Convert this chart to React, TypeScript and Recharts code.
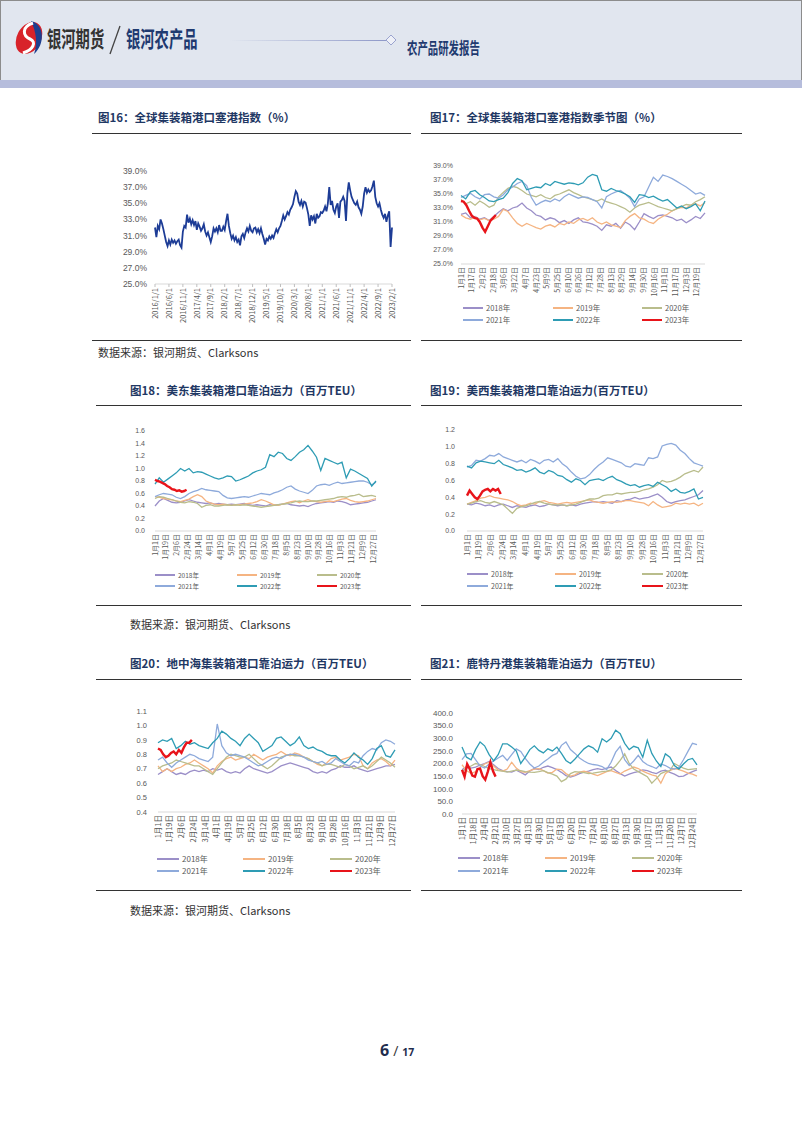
import React from "react";
import { LineChart, Line, XAxis, YAxis } from "recharts";

const CJK = "'Noto Sans CJK SC', 'Noto Sans', sans-serif";
const NUM = "'Liberation Sans', 'Noto Sans CJK SC', sans-serif";
const NAVY = "#1f3864";
const TICK_GRAY = "#595959";

// 图16: 全球集装箱港口塞港指数, two readings per month from 2016/1/1
const idxTickLabels = [
  "2016/1/1", "2016/6/1", "2016/11/1", "2017/4/1", "2017/9/1", "2018/2/1",
  "2018/7/1", "2018/12/1", "2019/5/1", "2019/10/1", "2020/3/1", "2020/8/1",
  "2021/1/1", "2021/6/1", "2021/11/1", "2022/4/1", "2022/9/1", "2023/2/1",
];
const idxValues = [
  // 2016
  32.0, 30.8, 32.2, 31.8, 33.0, 32.5, 31.8, 31.0, 30.2, 29.7, 30.4, 29.9,
  30.5, 30.1, 30.4, 30.0, 30.3, 30.5, 29.8, 29.5, 31.5, 32.2, 32.0, 33.6,
  // 2017
  32.6, 33.1, 32.4, 32.9, 32.3, 32.8, 31.7, 32.5, 32.1, 31.6, 31.9, 32.4,
  31.5, 31.0, 31.4, 30.8, 30.2, 30.9, 31.9, 31.5, 31.9, 31.4, 32.3, 31.6,
  // 2018
  31.6, 32.1, 31.7, 32.8, 33.7, 32.2, 31.3, 30.6, 31.0, 30.4, 30.8, 30.2,
  30.5, 29.8, 30.9, 31.2, 30.7, 31.4, 31.9, 31.5, 32.2, 31.6, 31.4, 31.9,
  // 2019
  32.0, 31.4, 31.8, 31.3, 31.9, 31.2, 30.6, 29.9, 30.6, 30.4, 30.9, 30.6,
  31.0, 30.7, 31.3, 31.8, 31.4, 31.9, 32.2, 32.8, 33.5, 33.0, 33.4, 33.9,
  // 2020
  33.6, 34.2, 34.5, 34.9, 35.8, 36.5, 36.2, 35.2, 34.8, 35.3, 34.6, 35.2,
  35.1, 34.4, 33.6, 32.2, 33.5, 33.0, 33.4, 32.5, 33.7, 33.2, 33.4, 33.9,
  // 2021
  33.8, 34.1, 34.6, 34.0, 35.0, 37.0, 34.8, 35.3, 34.2, 33.8, 34.6, 35.0,
  33.2, 35.2, 35.4, 35.8, 35.3, 32.8, 36.2, 37.6, 36.6, 35.8, 35.4, 35.0,
  // 2022
  34.8, 35.2, 34.5, 34.2, 33.7, 34.6, 36.2, 37.0, 36.3, 36.7, 36.4, 36.6,
  37.1, 37.8, 35.8, 35.0, 34.6, 35.0, 34.2, 33.6, 33.2, 33.7, 32.7, 33.5,
  // 2023
  34.0, 29.6, 32.0,
];

// seasonal x-axis labels
const ticks17 = [
  "1月1日", "1月17日", "2月2日", "2月18日", "3月6日", "3月22日", "4月7日", "4月23日",
  "5月9日", "5月25日", "6月10日", "6月26日", "7月12日", "7月28日", "8月13日", "8月29日",
  "9月14日", "9月30日", "10月16日", "11月1日", "11月17日", "12月3日", "12月19日",
];
const ticks18 = [
  "1月1日", "1月19日", "2月6日", "2月24日", "3月14日", "4月1日", "4月19日", "5月7日",
  "5月25日", "6月12日", "6月30日", "7月18日", "8月5日", "8月23日", "9月10日", "9月28日",
  "10月16日", "11月3日", "11月21日", "12月9日", "12月27日",
];
const ticks21 = [
  "1月1日", "1月18日", "2月4日", "2月21日", "3月10日", "3月27日", "4月13日", "4月30日",
  "5月17日", "6月3日", "6月20日", "7月7日", "7月24日", "8月10日", "8月27日", "9月13日",
  "9月30日", "10月17日", "11月3日", "11月20日", "12月7日", "12月24日",
];

const years = ["2018年", "2019年", "2020年", "2021年", "2022年", "2023年"];
const yearColors = ["#9b8fc8", "#f5b482", "#b9bd8c", "#8eaadb", "#2e9cb4", "#e8141a"];

// weekly readings (Jan 1, Jan 8, ...); 2023 every 4 days
// 图17 塞港指数 (%)
const cong2018 = [32.1, 32.3, 31.6, 31.8, 31.4, 31.6, 31.2, 31.8, 32.4, 32.9, 32.6, 33.0, 33.2, 33.7, 33.0, 32.6, 32.0, 31.8, 31.3, 31.6, 31.4, 30.9, 31.2, 30.8, 31.3, 31.6, 31.0, 30.9, 30.7, 30.4, 29.8, 30.6, 30.4, 30.8, 30.1, 31.0, 30.6, 29.9, 31.0, 32.2, 31.8, 31.5, 31.9, 32.0, 31.8, 31.6, 31.2, 31.4, 30.9, 31.3, 31.8, 31.5, 32.3];
const cong2019 = [32.0, 31.6, 31.4, 31.7, 31.3, 31.5, 31.2, 31.4, 31.8, 32.8, 32.5, 31.6, 30.8, 30.4, 30.8, 30.5, 30.2, 30.0, 30.4, 30.6, 30.3, 30.8, 30.6, 31.0, 30.8, 31.3, 31.5, 31.2, 31.6, 31.0, 30.7, 31.0, 30.6, 30.4, 30.2, 31.2, 31.8, 32.2, 31.6, 31.4, 31.0, 30.8, 31.4, 31.8, 32.1, 32.6, 32.9, 33.1, 33.0, 33.4, 33.6, 33.3, 33.8];
const cong2020 = [34.2, 33.6, 33.9, 33.4, 34.0, 33.6, 33.1, 33.4, 34.6, 35.2, 35.8, 36.1, 35.9, 35.5, 35.0, 34.8, 34.6, 34.9, 34.5, 34.3, 34.8, 35.0, 35.3, 35.6, 35.2, 34.9, 34.6, 34.4, 34.2, 34.0, 34.3, 33.9, 33.7, 33.5, 33.2, 32.9, 32.4, 33.0, 33.4, 33.6, 33.8, 33.5, 33.2, 33.0, 32.8, 32.6, 32.9, 33.2, 33.5, 33.4, 33.9, 34.2, 34.6];
const cong2021 = [34.5, 34.8, 35.1, 34.6, 34.3, 34.9, 35.0, 34.6, 34.4, 34.9, 35.6, 36.0, 36.5, 36.8, 36.2, 34.5, 33.4, 33.8, 34.1, 33.9, 34.3, 34.0, 34.6, 35.0, 34.7, 34.4, 34.6, 34.5, 34.2, 33.9, 33.0, 34.6, 35.0, 35.3, 35.5, 35.0, 34.4, 33.2, 34.3, 34.6, 36.0, 37.4, 36.8, 37.7, 37.5, 37.2, 36.8, 36.4, 36.0, 35.5, 35.0, 35.2, 34.8];
const cong2022 = [34.8, 34.3, 35.3, 35.5, 34.9, 34.5, 34.0, 33.9, 34.2, 34.4, 35.2, 36.5, 37.2, 36.9, 35.6, 35.8, 36.0, 35.9, 36.5, 36.2, 36.8, 36.6, 36.4, 36.6, 36.5, 36.3, 36.6, 37.4, 37.8, 37.6, 35.6, 35.4, 35.8, 35.5, 35.3, 35.0, 34.6, 33.8, 34.9, 34.8, 34.5, 34.7, 34.3, 34.0, 34.2, 33.6, 33.0, 33.3, 32.9, 33.2, 33.6, 32.6, 34.0];
const cong2023 = [34.0, 33.9, 33.4, 32.6, 31.9, 31.6, 31.5, 31.0, 30.2, 29.6, 30.4, 31.2, 31.6, 32.0];

// 图18 美东靠泊运力 (百万TEU)
const east2018 = [0.40, 0.48, 0.52, 0.49, 0.46, 0.45, 0.46, 0.48, 0.50, 0.48, 0.46, 0.45, 0.44, 0.45, 0.43, 0.44, 0.43, 0.42, 0.43, 0.42, 0.43, 0.44, 0.42, 0.41, 0.42, 0.41, 0.40, 0.42, 0.41, 0.42, 0.43, 0.44, 0.42, 0.41, 0.40, 0.41, 0.39, 0.42, 0.44, 0.45, 0.46, 0.47, 0.46, 0.48, 0.47, 0.45, 0.42, 0.43, 0.44, 0.45, 0.46, 0.48, 0.50];
const east2019 = [0.55, 0.54, 0.52, 0.51, 0.50, 0.48, 0.47, 0.49, 0.51, 0.55, 0.58, 0.55, 0.48, 0.45, 0.43, 0.42, 0.43, 0.42, 0.41, 0.42, 0.42, 0.43, 0.44, 0.45, 0.47, 0.50, 0.48, 0.45, 0.42, 0.41, 0.43, 0.45, 0.47, 0.48, 0.45, 0.48, 0.50, 0.48, 0.47, 0.46, 0.47, 0.48, 0.47, 0.49, 0.51, 0.52, 0.49, 0.47, 0.46, 0.47, 0.48, 0.50, 0.52];
const east2020 = [0.52, 0.55, 0.54, 0.52, 0.50, 0.48, 0.46, 0.45, 0.47, 0.46, 0.44, 0.38, 0.41, 0.42, 0.40, 0.40, 0.41, 0.42, 0.41, 0.42, 0.41, 0.42, 0.41, 0.40, 0.39, 0.38, 0.39, 0.40, 0.41, 0.42, 0.43, 0.44, 0.45, 0.47, 0.48, 0.47, 0.47, 0.48, 0.48, 0.49, 0.50, 0.51, 0.52, 0.54, 0.55, 0.54, 0.56, 0.57, 0.59, 0.55, 0.56, 0.57, 0.55];
const east2021 = [0.55, 0.58, 0.60, 0.59, 0.58, 0.54, 0.52, 0.55, 0.60, 0.63, 0.65, 0.68, 0.66, 0.65, 0.64, 0.63, 0.57, 0.53, 0.52, 0.53, 0.54, 0.55, 0.54, 0.56, 0.58, 0.60, 0.59, 0.58, 0.61, 0.63, 0.66, 0.70, 0.72, 0.67, 0.64, 0.62, 0.60, 0.65, 0.72, 0.74, 0.75, 0.73, 0.76, 0.78, 0.76, 0.77, 0.78, 0.79, 0.80, 0.80, 0.78, 0.74, 0.78];
const east2022 = [0.75, 0.85, 0.78, 0.83, 0.88, 0.93, 1.00, 0.96, 1.00, 0.93, 0.95, 0.94, 0.91, 0.88, 0.85, 0.83, 0.85, 0.88, 0.87, 0.80, 0.82, 0.85, 0.88, 0.93, 0.96, 0.98, 1.02, 1.22, 1.19, 1.26, 1.24, 1.16, 1.13, 1.19, 1.26, 1.30, 1.37, 1.28, 1.18, 0.97, 1.16, 1.13, 1.10, 1.07, 1.10, 0.85, 0.99, 0.96, 0.92, 0.88, 0.84, 0.72, 0.80];
const east2023 = [0.82, 0.80, 0.79, 0.77, 0.75, 0.72, 0.70, 0.67, 0.66, 0.64, 0.65, 0.63, 0.64, 0.66];

// 图19 美西靠泊运力 (百万TEU)
const west2018 = [0.32, 0.31, 0.33, 0.32, 0.30, 0.31, 0.29, 0.31, 0.32, 0.30, 0.28, 0.30, 0.29, 0.28, 0.30, 0.31, 0.29, 0.30, 0.32, 0.31, 0.30, 0.31, 0.30, 0.31, 0.30, 0.32, 0.33, 0.34, 0.35, 0.34, 0.35, 0.34, 0.33, 0.36, 0.35, 0.37, 0.38, 0.40, 0.38, 0.39, 0.40, 0.42, 0.44, 0.40, 0.35, 0.33, 0.35, 0.36, 0.37, 0.39, 0.41, 0.43, 0.48];
const west2019 = [0.32, 0.34, 0.36, 0.39, 0.40, 0.42, 0.40, 0.39, 0.38, 0.37, 0.35, 0.32, 0.30, 0.31, 0.33, 0.32, 0.35, 0.36, 0.34, 0.33, 0.32, 0.33, 0.34, 0.33, 0.34, 0.35, 0.36, 0.37, 0.35, 0.34, 0.33, 0.34, 0.35, 0.34, 0.35, 0.36, 0.36, 0.35, 0.34, 0.33, 0.30, 0.35, 0.31, 0.28, 0.29, 0.30, 0.33, 0.32, 0.33, 0.32, 0.33, 0.30, 0.33];
const west2020 = [0.32, 0.33, 0.35, 0.36, 0.34, 0.33, 0.35, 0.33, 0.31, 0.26, 0.21, 0.27, 0.29, 0.30, 0.32, 0.34, 0.35, 0.33, 0.32, 0.31, 0.31, 0.31, 0.30, 0.31, 0.32, 0.34, 0.36, 0.38, 0.38, 0.39, 0.42, 0.43, 0.43, 0.45, 0.44, 0.45, 0.46, 0.46, 0.47, 0.49, 0.50, 0.52, 0.55, 0.60, 0.58, 0.59, 0.61, 0.64, 0.68, 0.70, 0.72, 0.70, 0.76];
const west2021 = [0.76, 0.78, 0.84, 0.83, 0.86, 0.90, 0.89, 0.92, 0.88, 0.86, 0.84, 0.82, 0.84, 0.81, 0.85, 0.83, 0.80, 0.84, 0.85, 0.82, 0.86, 0.80, 0.76, 0.70, 0.65, 0.62, 0.63, 0.67, 0.73, 0.78, 0.82, 0.87, 0.85, 0.83, 0.81, 0.77, 0.76, 0.80, 0.79, 0.78, 0.87, 0.86, 0.88, 1.01, 1.03, 1.04, 1.02, 0.96, 0.92, 0.86, 0.81, 0.79, 0.77];
const west2022 = [0.77, 0.75, 0.81, 0.83, 0.82, 0.81, 0.80, 0.84, 0.79, 0.77, 0.75, 0.72, 0.73, 0.70, 0.72, 0.75, 0.70, 0.68, 0.72, 0.70, 0.66, 0.65, 0.61, 0.58, 0.62, 0.60, 0.55, 0.60, 0.61, 0.62, 0.60, 0.63, 0.65, 0.61, 0.59, 0.56, 0.54, 0.55, 0.52, 0.54, 0.55, 0.53, 0.58, 0.55, 0.52, 0.47, 0.50, 0.46, 0.45, 0.47, 0.50, 0.38, 0.40];
const west2023 = [0.42, 0.48, 0.44, 0.40, 0.38, 0.42, 0.47, 0.49, 0.50, 0.47, 0.50, 0.48, 0.50, 0.44];

// 图20 地中海靠泊运力 (百万TEU)
const med2018 = [0.66, 0.68, 0.70, 0.68, 0.66, 0.67, 0.66, 0.68, 0.69, 0.68, 0.69, 0.68, 0.70, 0.69, 0.70, 0.68, 0.67, 0.68, 0.67, 0.70, 0.72, 0.70, 0.69, 0.68, 0.67, 0.68, 0.70, 0.72, 0.73, 0.74, 0.73, 0.72, 0.71, 0.70, 0.68, 0.67, 0.68, 0.67, 0.69, 0.70, 0.72, 0.71, 0.71, 0.72, 0.70, 0.69, 0.68, 0.69, 0.70, 0.71, 0.72, 0.72, 0.73];
const med2019 = [0.72, 0.68, 0.70, 0.68, 0.70, 0.71, 0.73, 0.74, 0.76, 0.74, 0.72, 0.70, 0.67, 0.72, 0.75, 0.77, 0.78, 0.76, 0.77, 0.78, 0.77, 0.80, 0.78, 0.76, 0.78, 0.79, 0.80, 0.82, 0.80, 0.79, 0.81, 0.80, 0.78, 0.77, 0.75, 0.73, 0.72, 0.74, 0.77, 0.78, 0.76, 0.77, 0.78, 0.80, 0.79, 0.72, 0.70, 0.74, 0.76, 0.77, 0.75, 0.72, 0.76];
const med2020 = [0.70, 0.72, 0.73, 0.74, 0.76, 0.75, 0.74, 0.73, 0.72, 0.72, 0.70, 0.68, 0.66, 0.70, 0.74, 0.78, 0.80, 0.79, 0.78, 0.78, 0.80, 0.77, 0.74, 0.72, 0.70, 0.72, 0.75, 0.78, 0.79, 0.80, 0.79, 0.79, 0.78, 0.77, 0.75, 0.74, 0.72, 0.73, 0.73, 0.72, 0.71, 0.73, 0.72, 0.70, 0.71, 0.72, 0.70, 0.72, 0.75, 0.78, 0.76, 0.74, 0.71];
const med2021 = [0.76, 0.78, 0.74, 0.71, 0.74, 0.76, 0.78, 0.80, 0.79, 0.77, 0.76, 0.75, 0.78, 1.01, 0.86, 0.81, 0.79, 0.80, 0.79, 0.78, 0.76, 0.74, 0.72, 0.73, 0.75, 0.77, 0.78, 0.77, 0.79, 0.80, 0.80, 0.79, 0.78, 0.76, 0.75, 0.74, 0.75, 0.73, 0.74, 0.77, 0.75, 0.73, 0.72, 0.75, 0.74, 0.79, 0.82, 0.84, 0.83, 0.88, 0.90, 0.89, 0.87];
const med2022 = [0.88, 0.90, 0.89, 0.91, 0.84, 0.86, 0.89, 0.87, 0.88, 0.86, 0.85, 0.84, 0.88, 0.91, 0.96, 0.94, 0.91, 0.89, 0.86, 0.91, 0.94, 0.91, 0.88, 0.82, 0.84, 0.86, 0.91, 0.92, 0.89, 0.86, 0.88, 0.92, 0.86, 0.84, 0.85, 0.83, 0.82, 0.80, 0.79, 0.79, 0.76, 0.74, 0.77, 0.81, 0.78, 0.76, 0.73, 0.77, 0.84, 0.86, 0.79, 0.78, 0.83];
const med2023 = [0.84, 0.83, 0.80, 0.78, 0.79, 0.81, 0.82, 0.80, 0.83, 0.81, 0.85, 0.88, 0.88, 0.90];

// 图21 鹿特丹港靠泊运力
const rtm2018 = [175, 188, 182, 186, 194, 200, 208, 195, 180, 172, 168, 166, 174, 165, 155, 170, 180, 176, 185, 190, 184, 176, 165, 152, 146, 152, 160, 166, 170, 176, 180, 176, 182, 186, 172, 160, 150, 158, 164, 168, 175, 172, 165, 160, 170, 174, 165, 158, 148, 150, 160, 168, 175];
const rtm2019 = [195, 172, 160, 168, 185, 198, 205, 190, 175, 170, 178, 205, 182, 168, 165, 172, 178, 180, 172, 162, 165, 178, 176, 160, 150, 155, 166, 170, 165, 158, 152, 160, 168, 172, 165, 158, 170, 178, 186, 180, 170, 162, 155, 150, 122, 160, 172, 180, 176, 170, 162, 158, 150];
const rtm2020 = [170, 180, 190, 200, 196, 188, 180, 176, 172, 170, 166, 170, 174, 172, 168, 166, 165, 168, 172, 164, 158, 150, 128, 138, 160, 168, 166, 164, 160, 162, 165, 168, 170, 175, 190, 212, 238, 200, 178, 168, 158, 148, 122, 140, 160, 168, 172, 200, 190, 182, 176, 178, 180];
const rtm2021 = [215, 238, 240, 215, 190, 182, 198, 210, 222, 232, 212, 235, 258, 248, 220, 198, 182, 190, 205, 218, 232, 240, 272, 285, 255, 240, 222, 210, 200, 196, 194, 188, 176, 205, 245, 268, 215, 192, 210, 232, 208, 195, 188, 180, 198, 192, 182, 178, 185, 215, 248, 280, 275];
const rtm2022 = [265, 225, 215, 255, 285, 270, 235, 210, 235, 278, 278, 265, 250, 200, 225, 255, 270, 252, 242, 258, 250, 265, 240, 212, 200, 218, 238, 258, 270, 262, 245, 298, 285, 300, 332, 318, 280, 255, 268, 262, 225, 292, 240, 210, 188, 238, 225, 192, 178, 198, 215, 220, 195];
const rtm2023 = [175, 148, 198, 178, 152, 148, 178, 180, 150, 136, 168, 205, 170, 148];

const WEEK = 7;
const STEP_2023 = 4;
const MONTH_START = [0, 31, 59, 90, 120, 151, 181, 212, 243, 273, 304, 334];

const dayOf = (s: string) => {
  const m = s.match(/(\d+)月(\d+)日/)!;
  return MONTH_START[Number(m[1]) - 1] + Number(m[2]);
};
const monthIdx = (s: string) => {
  const [y, m] = s.split("/").map(Number);
  return (y - 2016) * 12 + (m - 1);
};
const toPoints = (vals: number[], step: number) => vals.map((v, i) => ({ d: 1 + i * step, v }));

function VTick(props: any) {
  const { x, y, payload, labelMap, fontSize } = props;
  const text = labelMap.get(payload.value) ?? "";
  const ax = x + fontSize * 0.36;
  return (
    <text
      x={ax}
      y={y}
      transform={`rotate(-90 ${ax} ${y})`}
      textAnchor="end"
      fontSize={fontSize}
      fill={TICK_GRAY}
      fontFamily={CJK}
    >
      {text}
    </text>
  );
}

interface SeasonProps {
  left: number;
  top: number;
  width: number;
  height: number;
  plot: [number, number, number, number]; // left, right, top, bottom
  yAxisWidth: number;
  labelRight: number;
  yDomain: [number, number];
  yTicks: number[];
  yDigits: number;
  ySuffix?: string;
  xLabels: string[];
  series: number[][];
  yFont: number;
  xFont: number;
  legendCols: number[];
  legendRows: number[];
  legendFont: number;
  legendLine: number;
}

function SeasonChart(p: SeasonProps) {
  const [pl, pr, pt, pb] = p.plot;
  const xh = 40;
  const margin = {
    top: pt - p.top,
    right: p.left + p.width - pr,
    left: pl - p.left - p.yAxisWidth,
    bottom: p.top + p.height - pb - xh,
  };
  const labelMap = new Map(p.xLabels.map((s) => [dayOf(s), s] as [number, string]));
  const tickDays = p.xLabels.map(dayOf);

  return (
    <div style={{ position: "absolute", left: p.left, top: p.top, width: p.width, height: p.height }}>
      <LineChart width={p.width} height={p.height} margin={margin}>
        <XAxis
          type="number"
          dataKey="d"
          domain={[1, 365]}
          ticks={tickDays}
          interval={0}
          axisLine={{ stroke: "#d9d9d9" }}
          tickLine={false}
          tickSize={0}
          tickMargin={3}
          height={xh}
          tick={(tp: any) => <VTick {...tp} labelMap={labelMap} fontSize={p.xFont} />}
        />
        <YAxis
          type="number"
          domain={p.yDomain}
          ticks={p.yTicks}
          interval={0}
          allowDataOverflow
          axisLine={false}
          tickLine={false}
          tickSize={0}
          tickMargin={pl - p.labelRight}
          width={p.yAxisWidth}
          tick={{ fontSize: p.yFont, fill: TICK_GRAY, fontFamily: NUM }}
          tickFormatter={(v: number) => v.toFixed(p.yDigits) + (p.ySuffix ?? "")}
        />
        {p.series.map((vals, i) => (
          <Line
            key={years[i]}
            name={years[i]}
            data={toPoints(vals, i === 5 ? STEP_2023 : WEEK)}
            dataKey="v"
            type="linear"
            stroke={yearColors[i]}
            strokeWidth={i === 5 ? 2.4 : 1.3}
            dot={false}
            activeDot={false}
            isAnimationActive={false}
          />
        ))}
      </LineChart>
      {years.map((name, i) => (
        <div
          key={name}
          style={{
            position: "absolute",
            left: p.legendCols[i % 3],
            top: p.legendRows[Math.floor(i / 3)] - 6,
            height: 12,
            display: "flex",
            alignItems: "center",
            whiteSpace: "nowrap",
          }}
        >
          <div
            style={{
              width: p.legendLine,
              height: i === 5 ? 2.5 : 1.6,
              background: yearColors[i],
              marginRight: 3,
            }}
          />
          <span style={{ fontSize: p.legendFont, color: TICK_GRAY, fontFamily: CJK, lineHeight: 1 }}>{name}</span>
        </div>
      ))}
    </div>
  );
}

function IndexChart() {
  const left = 90;
  const top = 160;
  const width = 320;
  const height = 172;
  const [pl, pr, pt, pb] = [155, 392, 171, 284];
  const xh = 44;
  const data = idxValues.map((v, i) => ({ t: i / 2, v }));
  const labelMap = new Map(idxTickLabels.map((s) => [monthIdx(s), s] as [number, string]));
  return (
    <div style={{ position: "absolute", left, top, width, height }}>
      <LineChart
        width={width}
        height={height}
        data={data}
        margin={{ top: pt - top, right: left + width - pr, left: pl - left - 55, bottom: top + height - pb - xh }}
      >
        <XAxis
          type="number"
          dataKey="t"
          domain={[0, 85]}
          ticks={idxTickLabels.map(monthIdx)}
          interval={0}
          axisLine={{ stroke: "#d9d9d9" }}
          tickLine={{ stroke: "#bfbfbf" }}
          tickSize={3}
          tickMargin={1}
          height={xh}
          tick={(tp: any) => <VTick {...tp} labelMap={labelMap} fontSize={7.5} />}
        />
        <YAxis
          type="number"
          domain={[25, 39]}
          ticks={[25, 27, 29, 31, 33, 35, 37, 39]}
          interval={0}
          axisLine={false}
          tickLine={false}
          tickSize={0}
          tickMargin={8}
          width={55}
          tick={{ fontSize: 8.5, fill: TICK_GRAY, fontFamily: NUM }}
          tickFormatter={(v: number) => v.toFixed(1) + "%"}
        />
        <Line
          dataKey="v"
          type="linear"
          stroke="#1d3c96"
          strokeWidth={1.8}
          dot={false}
          activeDot={false}
          isAnimationActive={false}
        />
      </LineChart>
    </div>
  );
}

const Title = ({ x, y, text }: { x: number; y: number; text: string }) => (
  <div
    style={{
      position: "absolute",
      left: x,
      top: y - 7,
      fontSize: 11.5,
      lineHeight: "14px",
      fontWeight: 700,
      color: NAVY,
      fontFamily: CJK,
      whiteSpace: "nowrap",
    }}
  >
    {text}
  </div>
);

const Rule = ({ x1, x2, y }: { x1: number; x2: number; y: number }) => (
  <div style={{ position: "absolute", left: x1, top: y, width: x2 - x1, height: 1.3, background: "#333" }} />
);

const Source = ({ x, y }: { x: number; y: number }) => (
  <div
    style={{
      position: "absolute",
      left: x,
      top: y - 7,
      fontSize: 11,
      lineHeight: "14px",
      color: "#333",
      fontFamily: CJK,
      whiteSpace: "nowrap",
    }}
  >
    数据来源：银河期货、Clarksons
  </div>
);

const Condensed = ({ x, y, size, color, text }: { x: number; y: number; size: number; color: string; text: string }) => (
  <div
    style={{
      position: "absolute",
      left: x,
      top: y - size / 2,
      fontSize: size,
      lineHeight: `${size}px`,
      fontWeight: 700,
      color,
      fontFamily: CJK,
      whiteSpace: "nowrap",
      transform: "scaleX(0.65)",
      transformOrigin: "left center",
    }}
  >
    {text}
  </div>
);

export default function App() {
  return (
    <div
      style={{
        position: "absolute",
        left: 0,
        top: 0,
        width: 802,
        height: 1133,
        background: "#fff",
        overflow: "hidden",
      }}
    >
      {/* header */}
      <div
        style={{
          position: "absolute",
          left: 0,
          top: 0,
          width: 800,
          height: 79,
          background: "#e1e6ef",
          border: "1px solid #8c8c8c",
          borderBottom: "none",
        }}
      />
      <div style={{ position: "absolute", left: 0, top: 80, width: 802, height: 8, background: "#b6bddc" }} />
      <svg width={32} height={42} style={{ position: "absolute", left: 14, top: 17 }}>
        <ellipse cx={15} cy={21} rx={12} ry={17} transform="rotate(28 15 21)" fill="#d8232a" />
        <path d="M17 4 C 31 7, 31 28, 20 37 C 24 27, 22 14, 17 4 Z" fill="#1e3f8f" />
        <path d="M19 6 C 7 10, 9 19, 16 22 C 23 25, 19 33, 9 36" stroke="#fff" strokeWidth={3} fill="none" />
      </svg>
      <Condensed x={47} y={37} size={22} color="#333" text="银河期货" />
      <svg width={14} height={30} style={{ position: "absolute", left: 108, top: 25 }}>
        <line x1={12} y1={1} x2={2} y2={29} stroke="#444" strokeWidth={1.3} />
      </svg>
      <Condensed x={126} y={37} size={22} color="#1f3a70" text="银河农产品" />
      <div
        style={{
          position: "absolute",
          left: 230,
          top: 40,
          width: 157,
          height: 1,
          background: "linear-gradient(to right, rgba(150,160,205,0), #8e98c8)",
        }}
      />
      <svg width={12} height={12} style={{ position: "absolute", left: 385, top: 34 }}>
        <path d="M6 1 L11 6 L6 11 L1 6 Z" fill="#eef0f7" stroke="#9aa3cf" strokeWidth={1} />
      </svg>
      <Condensed x={407} y={47} size={16} color="#1f3a70" text="农产品研发报告" />

      {/* row 1 */}
      <Title x={98} y={117} text="图16：全球集装箱港口塞港指数（%）" />
      <Title x={430} y={117} text="图17：全球集装箱港口塞港指数季节图（%）" />
      <Rule x1={92} x2={411} y={133} />
      <Rule x1={421} x2={742} y={133} />
      <IndexChart />
      <SeasonChart
        left={420}
        top={155}
        width={320}
        height={175}
        plot={[461, 705, 166, 264]}
        yAxisWidth={40}
        labelRight={453}
        yDomain={[25, 39]}
        yTicks={[25, 27, 29, 31, 33, 35, 37, 39]}
        yDigits={1}
        ySuffix="%"
        xLabels={ticks17}
        series={[cong2018, cong2019, cong2020, cong2021, cong2022, cong2023]}
        yFont={7}
        xFont={7}
        legendCols={[43, 133, 222]}
        legendRows={[153, 165]}
        legendFont={7.5}
        legendLine={20}
      />
      <Rule x1={92} x2={411} y={340} />
      <Rule x1={421} x2={742} y={340} />
      <Source x={98} y={352} />

      {/* row 2 */}
      <Title x={130} y={390} text="图18：美东集装箱港口靠泊运力（百万TEU）" />
      <Title x={430} y={390} text="图19：美西集装箱港口靠泊运力(百万TEU）" />
      <Rule x1={96} x2={411} y={405} />
      <Rule x1={421} x2={742} y={405} />
      <SeasonChart
        left={90}
        top={420}
        width={320}
        height={175}
        plot={[155, 376, 431, 531]}
        yAxisWidth={50}
        labelRight={145}
        yDomain={[0, 1.6]}
        yTicks={[0, 0.2, 0.4, 0.6, 0.8, 1.0, 1.2, 1.4, 1.6]}
        yDigits={1}
        xLabels={ticks18}
        series={[east2018, east2019, east2020, east2021, east2022, east2023]}
        yFont={7}
        xFont={7}
        legendCols={[65, 147, 227]}
        legendRows={[155, 166]}
        legendFont={6.5}
        legendLine={20}
      />
      <SeasonChart
        left={420}
        top={420}
        width={320}
        height={175}
        plot={[467, 703, 430, 531]}
        yAxisWidth={40}
        labelRight={455}
        yDomain={[0, 1.2]}
        yTicks={[0, 0.2, 0.4, 0.6, 0.8, 1.0, 1.2]}
        yDigits={1}
        xLabels={ticks18}
        series={[west2018, west2019, west2020, west2021, west2022, west2023]}
        yFont={7}
        xFont={7}
        legendCols={[47, 135, 222]}
        legendRows={[154, 166]}
        legendFont={7}
        legendLine={21}
      />
      <Rule x1={96} x2={411} y={605} />
      <Rule x1={421} x2={742} y={605} />
      <Source x={130} y={624} />

      {/* row 3 */}
      <Title x={130} y={663} text="图20：地中海集装箱港口靠泊运力（百万TEU）" />
      <Title x={430} y={663} text="图21：鹿特丹港集装箱靠泊运力（百万TEU）" />
      <Rule x1={96} x2={411} y={679} />
      <Rule x1={421} x2={742} y={679} />
      <SeasonChart
        left={90}
        top={700}
        width={320}
        height={180}
        plot={[158, 395, 711, 812]}
        yAxisWidth={50}
        labelRight={147}
        yDomain={[0.4, 1.1]}
        yTicks={[0.4, 0.5, 0.6, 0.7, 0.8, 0.9, 1.0, 1.1]}
        yDigits={1}
        xLabels={ticks18}
        series={[med2018, med2019, med2020, med2021, med2022, med2023]}
        yFont={7.5}
        xFont={7.5}
        legendCols={[67, 153, 240]}
        legendRows={[159, 171]}
        legendFont={8}
        legendLine={22}
      />
      <SeasonChart
        left={420}
        top={700}
        width={320}
        height={180}
        plot={[462, 697, 713, 814]}
        yAxisWidth={40}
        labelRight={453}
        yDomain={[0, 400]}
        yTicks={[0, 50, 100, 150, 200, 250, 300, 350, 400]}
        yDigits={1}
        xLabels={ticks21}
        series={[rtm2018, rtm2019, rtm2020, rtm2021, rtm2022, rtm2023]}
        yFont={8}
        xFont={7.5}
        legendCols={[38, 125, 212]}
        legendRows={[158, 171]}
        legendFont={8}
        legendLine={22}
      />
      <Rule x1={96} x2={411} y={890} />
      <Rule x1={421} x2={742} y={890} />
      <Source x={130} y={910} />

      {/* page number */}
      <div
        style={{
          position: "absolute",
          left: 380,
          top: 1040,
          fontFamily: "'Open Sans', 'Noto Sans', sans-serif",
          color: "#1f2d4e",
          whiteSpace: "nowrap",
          lineHeight: "20px",
        }}
      >
        <span style={{ fontSize: 16, fontWeight: 700 }}>6</span>
        <span style={{ fontSize: 14, margin: "0 4px", color: "#333" }}>/</span>
        <span style={{ fontSize: 10.5, fontWeight: 700 }}>17</span>
      </div>
    </div>
  );
}
